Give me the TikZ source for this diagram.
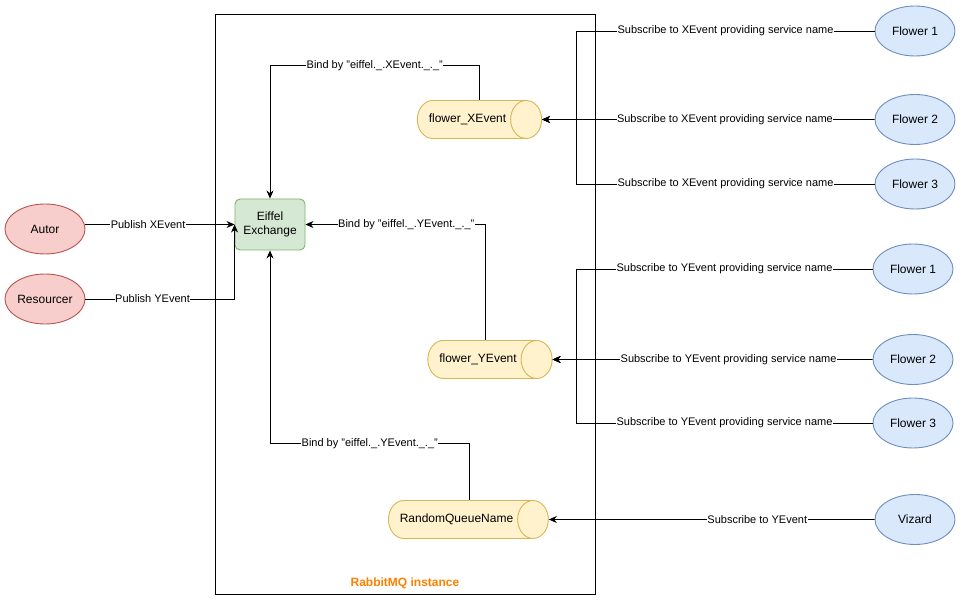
\documentclass[tikz,border=0pt]{standalone}
\usepackage{fontspec}
\setmainfont{Liberation Sans}
\usetikzlibrary{shapes.geometric,arrows.meta}
\definecolor{redfill}{HTML}{F8CECC}
\definecolor{redline}{HTML}{B85450}
\definecolor{bluefill}{HTML}{DAE8FC}
\definecolor{blueline}{HTML}{6C8EBF}
\definecolor{greenfill}{HTML}{D5E8D4}
\definecolor{greenline}{HTML}{82B366}
\definecolor{yellowfill}{HTML}{FFF2CC}
\definecolor{yellowline}{HTML}{D6B656}
\definecolor{rmqorange}{HTML}{FF8000}
\newcommand{\qname}[1]{\hspace*{-8pt}#1}
\begin{document}
\begin{tikzpicture}[x=1pt,y=-1pt,line width=0.9pt,
    actor/.style={ellipse,draw=redline,fill=redfill,minimum width=80pt,minimum height=50pt,inner sep=0pt,font=\fontsize{12}{14}\selectfont},
    flower/.style={ellipse,draw=blueline,fill=bluefill,minimum width=80pt,minimum height=50pt,inner sep=0pt,font=\fontsize{12}{14}\selectfont},
    queue/.style={cylinder,shape border rotate=0,aspect=2.8,draw=yellowline,fill=yellowfill,minimum width=38pt,inner ysep=0pt,inner xsep=4pt,font=\fontsize{12}{14}\selectfont},
    exch/.style={draw=greenline,fill=greenfill,rounded corners=5pt,minimum width=70pt,minimum height=51pt,align=center,font=\fontsize{12}{14}\selectfont},
    lbl/.style={fill=white,inner sep=0.5pt,font=\fontsize{11}{13}\selectfont},
    conn/.style={-{Stealth[length=8pt,width=7pt,inset=2.5pt]}}]
  \useasboundingbox (0,0) rectangle (962,601);
  % rabbitmq container
  \node[draw,minimum width=380pt,minimum height=580pt,inner sep=0pt] (rmq) at (405,304) {};
  \node[text=rmqorange,font=\fontsize{12}{14}\selectfont\bfseries] (rmqlbl) at (405,583) {RabbitMQ instance};
  % publishers
  \node[actor] (au) at (45,229) {Autor};
  \node[actor] (rs) at (45,299) {Resourcer};
  \node[exch] (ex) at (270,224.5) {Eiffel\\Exchange};
  % queues
  \node[queue,minimum height=119pt] (qx) at (471.5,119.5) {\qname{flower\_XEvent}};
  \node[queue,minimum height=120pt] (qy) at (482,359.5) {\qname{flower\_YEvent}};
  \node[queue,minimum height=152pt] (qr) at (460.5,519.5) {\qname{RandomQueueName}};
  % consumers
  \node[flower] (fx1) at (915,31) {Flower 1};
  \node[flower] (fx2) at (915,119.5) {Flower 2};
  \node[flower] (fx3) at (915,184) {Flower 3};
  \node[flower] (fy1) at (913,269) {Flower 1};
  \node[flower] (fy2) at (913,359.5) {Flower 2};
  \node[flower] (fy3) at (913,423) {Flower 3};
  \node[flower] (vz) at (915,519.5) {Vizard};
  % helper coordinates
  \coordinate (bx) at (0,65.5);
  \coordinate (br) at (0,443.5);
  \coordinate (tx) at (576.5,0);
  % publish
  \draw[conn] (ex.west -| au.east) -- node[lbl,pos=0.42]{Publish XEvent} (ex.west);
  \draw[conn] (rs.east) -- node[lbl,pos=0.45]{Publish YEvent} (ex.west |- rs.east) -- (ex.west);
  % bindings
  \draw[conn] (qx.north -| 479.5,0) -- (479.5,0 |- bx) -- node[lbl]{Bind by "eiffel.\_.XEvent.\_.\_"} (ex.north |- bx) -- (ex.north);
  \draw[conn] (qy.north -| 485.5,0) -- (485.5,0 |- ex.east) -- node[lbl,pos=0.44]{Bind by "eiffel.\_.YEvent.\_.\_"} (ex.east);
  \draw[conn] (qr.north -| 469.5,0) -- (469.5,0 |- br) -- node[lbl]{Bind by "eiffel.\_.YEvent.\_.\_"} (ex.south |- br) -- (ex.south);
  % subscriptions X
  \draw[conn] (fx1.west) -- node[lbl]{Subscribe to XEvent providing service name} (fx1.west -| tx) -- (tx |- qx.east) -- (qx.east);
  \draw[conn] (fx2.west) -- node[lbl,pos=0.45]{Subscribe to XEvent providing service name} (qx.east);
  \draw[conn] (fx3.west) -- node[lbl]{Subscribe to XEvent providing service name} (fx3.west -| tx) -- (tx |- qx.east) -- (qx.east);
  % subscriptions Y
  \draw[conn] (fy1.west) -- node[lbl]{Subscribe to YEvent providing service name} (fy1.west -| tx) -- (tx |- qy.east) -- (qy.east);
  \draw[conn] (fy2.west) -- node[lbl,pos=0.45]{Subscribe to YEvent providing service name} (qy.east);
  \draw[conn] (fy3.west) -- node[lbl]{Subscribe to YEvent providing service name} (fy3.west -| tx) -- (tx |- qy.east) -- (qy.east);
  \draw[conn] (vz.west) -- node[lbl,pos=0.36]{Subscribe to YEvent} (qr.east);
\end{tikzpicture}
\end{document}
